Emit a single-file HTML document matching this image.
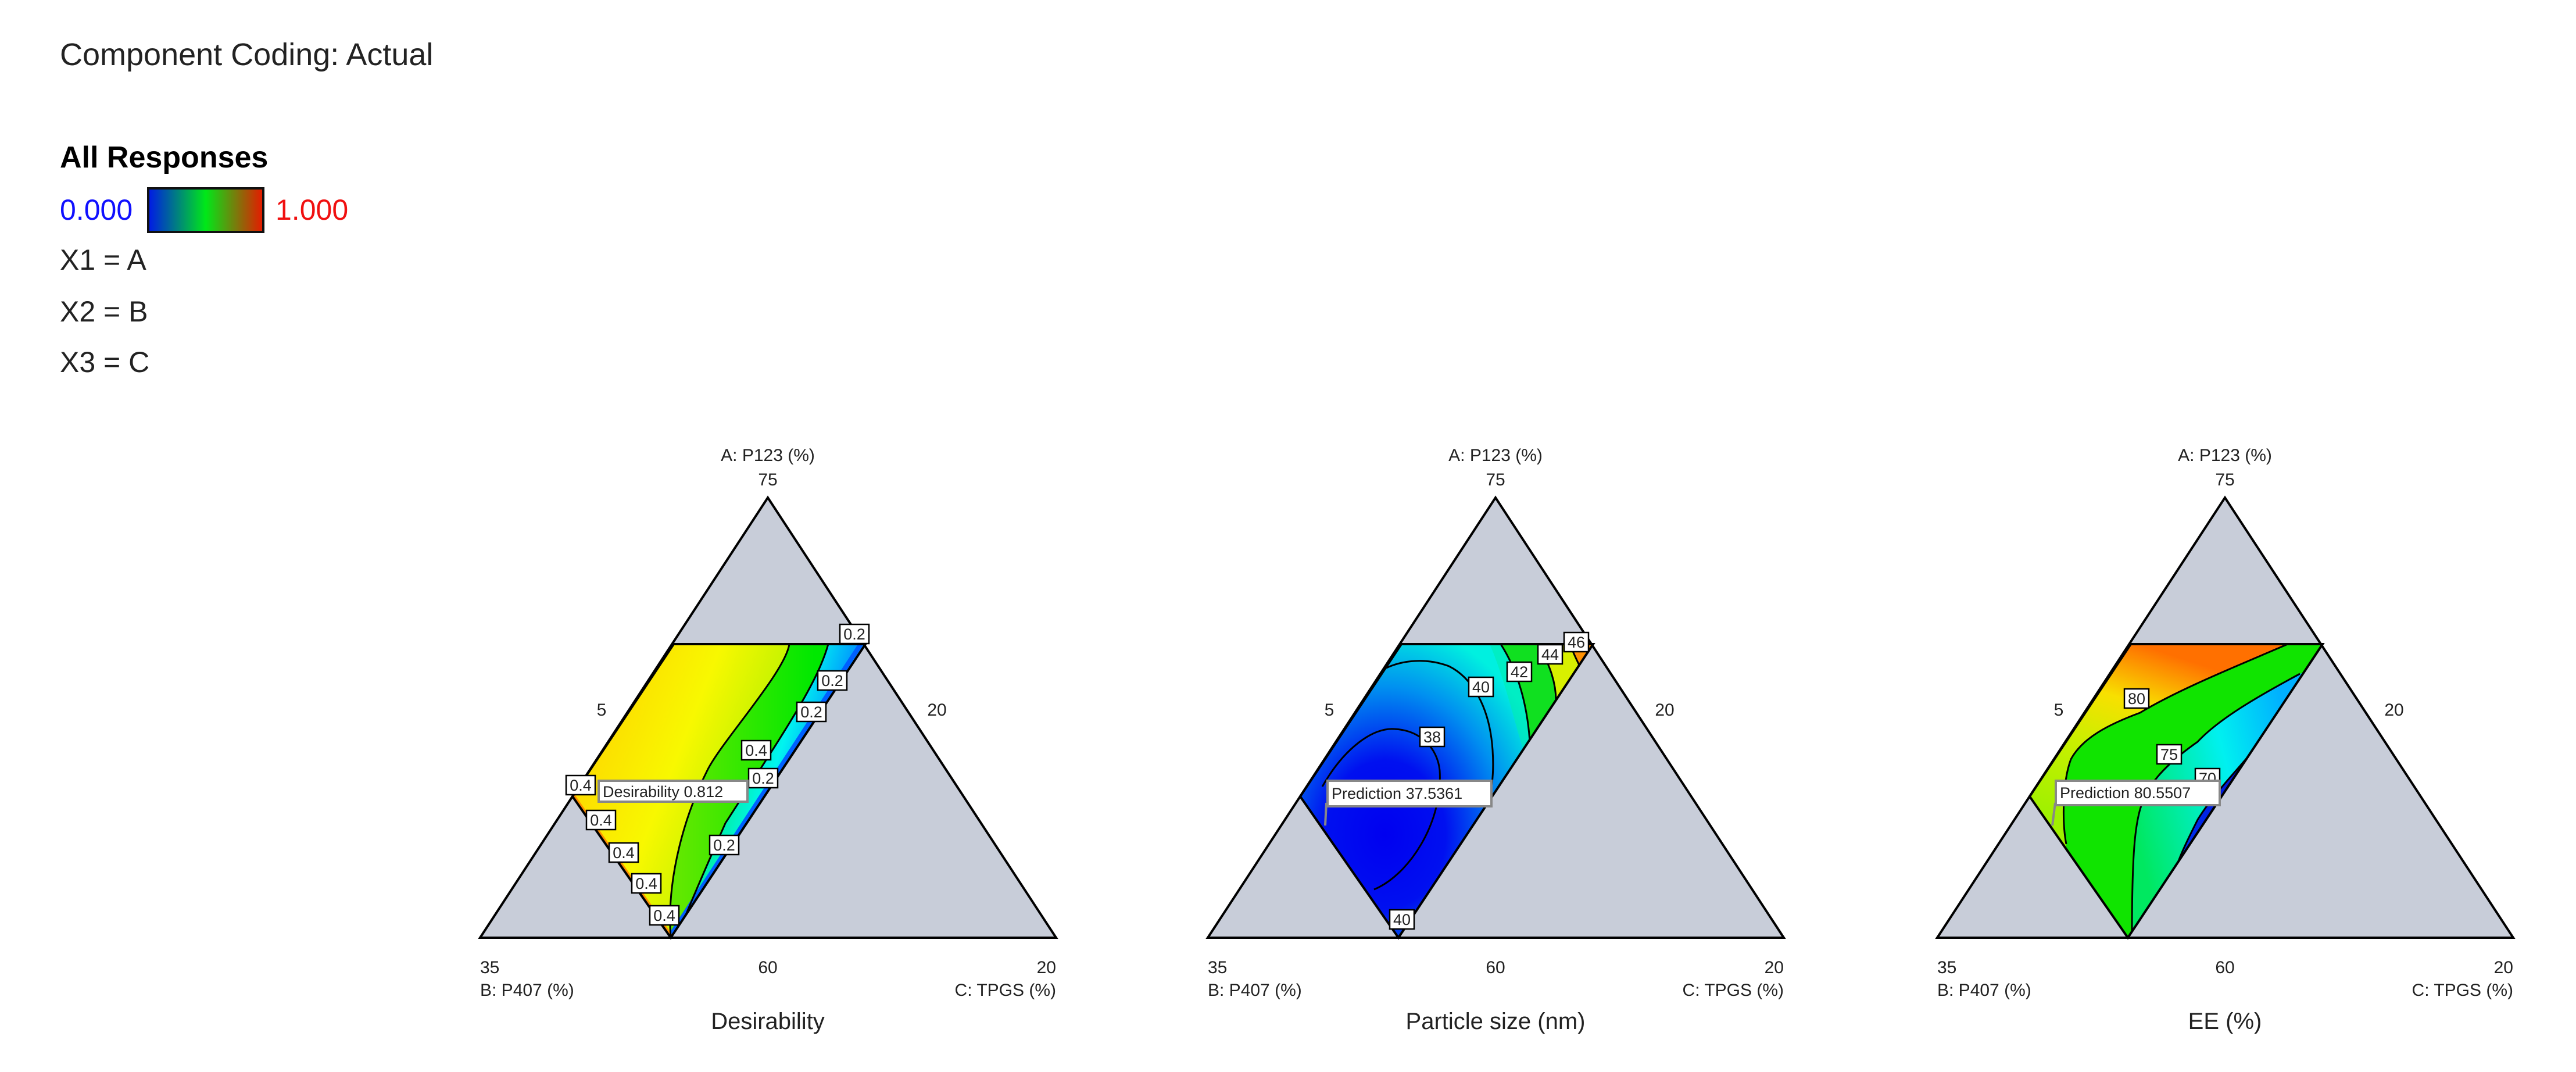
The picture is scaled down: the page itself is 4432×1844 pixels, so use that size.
<!DOCTYPE html>
<html><head><meta charset="utf-8"><style>
html,body{margin:0;padding:0;background:#fff;}
svg{display:block;}
text{font-family:"Liberation Sans",sans-serif;fill:#222;}
</style></head><body>
<svg width="4432" height="1844" viewBox="0 0 4432 1844" xmlns="http://www.w3.org/2000/svg">
<defs>
  <clipPath id="poly"><path d="M-162,252 L168,252 L-167,757 L-336,514 Z"/></clipPath>
  <linearGradient id="cb" x1="0" x2="1" y1="0" y2="0">
    <stop offset="0" stop-color="#0018e8"/><stop offset="0.5" stop-color="#00e818"/><stop offset="1" stop-color="#e81800"/>
  </linearGradient>
  <linearGradient id="g1a" gradientUnits="userSpaceOnUse" x1="-340" y1="300" x2="40" y2="450">
    <stop offset="0" stop-color="#ffcc00"/><stop offset="0.55" stop-color="#f8f800"/><stop offset="1" stop-color="#a8f000"/>
  </linearGradient>
  <linearGradient id="g1b" gradientUnits="userSpaceOnUse" x1="-150" y1="450" x2="80" y2="450">
    <stop offset="0" stop-color="#60e800"/><stop offset="1" stop-color="#00e800"/>
  </linearGradient>
  <linearGradient id="g1c" gradientUnits="userSpaceOnUse" x1="-120" y1="500" x2="60" y2="560">
    <stop offset="0" stop-color="#00ec60"/><stop offset="0.6" stop-color="#00f4f0"/><stop offset="1" stop-color="#0090ff"/>
  </linearGradient>
  <radialGradient id="g2" gradientUnits="userSpaceOnUse" cx="-190" cy="580" r="330" gradientTransform="translate(-190,580) scale(0.9,1.1) translate(190,-580)">
    <stop offset="0" stop-color="#0000f0"/><stop offset="0.35" stop-color="#0010f0"/><stop offset="0.7" stop-color="#0090f0"/><stop offset="1" stop-color="#00f0e0"/>
  </radialGradient>
  <linearGradient id="g3" gradientUnits="userSpaceOnUse" x1="-150" y1="252" x2="-250" y2="560">
    <stop offset="0" stop-color="#ff7000"/><stop offset="0.3" stop-color="#f8e000"/><stop offset="0.6" stop-color="#c8f000"/><stop offset="1" stop-color="#a0f000"/>
  </linearGradient>
  <linearGradient id="g3b" gradientUnits="userSpaceOnUse" x1="-160" y1="550" x2="130" y2="480">
    <stop offset="0" stop-color="#00e860"/><stop offset="0.6" stop-color="#00f0f0"/><stop offset="1" stop-color="#00b0ff"/>
  </linearGradient>
  <linearGradient id="g3c" gradientUnits="userSpaceOnUse" x1="-80" y1="600" x2="40" y2="450">
    <stop offset="0" stop-color="#0030f0"/><stop offset="1" stop-color="#0010d0"/>
  </linearGradient>
</defs>

<!-- legend -->
<text x="103" y="112" font-size="54">Component Coding: Actual</text>
<text x="103" y="288" font-size="52" font-weight="bold" style="fill:#000">All Responses</text>
<text x="103" y="378" font-size="50" style="fill:#1010ff">0.000</text>
<rect x="255" y="324" width="198" height="75" fill="url(#cb)" stroke="#111" stroke-width="4"/>
<text x="474" y="378" font-size="50" style="fill:#f01010">1.000</text>
<text x="103" y="464" font-size="50">X1 = A</text>
<text x="103" y="553" font-size="50">X2 = B</text>
<text x="103" y="640" font-size="50">X3 = C</text>

<!-- Triangle 1 -->
<g transform="translate(1321,856)">
  <path d="M0,0 L496,757 L-495,757 Z" fill="#c8cdd9"/>
  <g clip-path="url(#poly)">
    <rect x="-400" y="240" width="700" height="530" fill="url(#g1a)"/>
    <path d="M37,252 C30,300 -80,420 -104,469 C-140,540 -175,650 -167,757 L300,757 L300,252 Z" fill="url(#g1b)"/>
    <path d="M104,252 C85,320 30,400 -73,560 C-95,610 -130,690 -146,730 L-140,800 L300,800 L300,252 Z" fill="url(#g1c)"/>
    <path d="M160,252 L-175,765" stroke="#0060ff" stroke-width="8" fill="none"/>
    <path d="M-336,514 L-167,757" stroke="#ff9000" stroke-width="10" fill="none"/>
    <path d="M37,252 C30,300 -80,420 -104,469 C-140,540 -175,650 -167,757" stroke="#000" stroke-width="3" fill="none"/>
    <path d="M104,252 C85,320 30,400 -73,560 C-95,610 -130,690 -146,730" stroke="#000" stroke-width="3" fill="none"/>
  </g>
  <path d="M-162,252 L168,252 L-167,757 L-336,514 Z" fill="none" stroke="#000" stroke-width="4"/>
  <path d="M0,0 L496,757 L-495,757 Z" fill="none" stroke="#000" stroke-width="4"/>
  <g font-size="27" text-anchor="middle">
    <rect x="124" y="218" width="50" height="33" fill="#fff" stroke="#000" stroke-width="2.5"/><text x="149" y="244">0.2</text>
    <rect x="86" y="298" width="50" height="33" fill="#fff" stroke="#000" stroke-width="2.5"/><text x="111" y="324">0.2</text>
    <rect x="50" y="352" width="50" height="33" fill="#fff" stroke="#000" stroke-width="2.5"/><text x="75" y="378">0.2</text>
    <rect x="-45" y="418" width="50" height="33" fill="#fff" stroke="#000" stroke-width="2.5"/><text x="-20" y="444">0.4</text>
    <rect x="-33" y="466" width="50" height="33" fill="#fff" stroke="#000" stroke-width="2.5"/><text x="-8" y="492">0.2</text>
    <rect x="-100" y="581" width="50" height="33" fill="#fff" stroke="#000" stroke-width="2.5"/><text x="-75" y="607">0.2</text>
    <rect x="-347" y="478" width="50" height="33" fill="#fff" stroke="#000" stroke-width="2.5"/><text x="-322" y="504">0.4</text>
    <rect x="-312" y="538" width="50" height="33" fill="#fff" stroke="#000" stroke-width="2.5"/><text x="-287" y="564">0.4</text>
    <rect x="-273" y="594" width="50" height="33" fill="#fff" stroke="#000" stroke-width="2.5"/><text x="-248" y="620">0.4</text>
    <rect x="-234" y="647" width="50" height="33" fill="#fff" stroke="#000" stroke-width="2.5"/><text x="-209" y="673">0.4</text>
    <rect x="-203" y="702" width="50" height="33" fill="#fff" stroke="#000" stroke-width="2.5"/><text x="-178" y="728">0.4</text>
  </g>
  <rect x="-291" y="487" width="256" height="36" fill="#fff" stroke="#888" stroke-width="4"/>
  <text x="-284" y="515" font-size="27">Desirability  0.812</text>
  <text x="0" y="-63" font-size="30" text-anchor="middle">A: P123 (%)</text>
  <text x="0" y="-21" font-size="30" text-anchor="middle">75</text>
  <text x="-286" y="375" font-size="30" text-anchor="middle">5</text>
  <text x="291" y="375" font-size="30" text-anchor="middle">20</text>
  <text x="-495" y="818" font-size="30">35</text>
  <text x="0" y="818" font-size="30" text-anchor="middle">60</text>
  <text x="496" y="818" font-size="30" text-anchor="end">20</text>
  <text x="-495" y="857" font-size="30">B: P407 (%)</text>
  <text x="496" y="857" font-size="30" text-anchor="end">C: TPGS (%)</text>
  <text x="0" y="914" font-size="40" text-anchor="middle">Desirability</text>
</g>

<!-- Triangle 2 -->
<g transform="translate(2573,856)">
  <path d="M0,0 L496,757 L-495,757 Z" fill="#c8cdd9"/>
  <g clip-path="url(#poly)">
    <rect x="-400" y="240" width="700" height="530" fill="url(#g2)"/>
    <path d="M-10,252 C20,320 40,420 60,470 L300,470 L300,252 Z" fill="#00ecb0" opacity="0.6"/>
    <path d="M9,252 C40,300 55,360 59,420 L300,420 L300,252 Z" fill="#10e020"/>
    <path d="M73,252 C95,290 104,320 104,349 L300,349 L300,252 Z" fill="#d8f000"/>
    <path d="M128,252 C135,270 140,280 145,290 L300,290 L300,252 Z" fill="#ff9000"/>
    <path d="M-188,293 C-160,280 -120,275 -80,290 C-40,310 -10,360 -5,434 C-2,480 -8,510 -12,518" stroke="#000" stroke-width="3" fill="none"/>
    <path d="M-298,497 C-260,430 -210,395 -174,398 C-130,400 -100,430 -96,469 C-90,560 -150,650 -209,674" stroke="#000" stroke-width="3" fill="none"/>
    <path d="M9,252 C40,300 55,360 59,420" stroke="#000" stroke-width="3" fill="none"/>
    <path d="M73,252 C95,290 104,320 104,349" stroke="#000" stroke-width="3" fill="none"/>
    <path d="M128,252 C135,270 140,280 145,290" stroke="#000" stroke-width="3" fill="none"/>
  </g>
  <path d="M-162,252 L168,252 L-167,757 L-336,514 Z" fill="none" stroke="#000" stroke-width="4"/>
  <path d="M0,0 L496,757 L-495,757 Z" fill="none" stroke="#000" stroke-width="4"/>
  <g font-size="27" text-anchor="middle">
    <rect x="118" y="232" width="42" height="33" fill="#fff" stroke="#000" stroke-width="2.5"/><text x="139" y="258">46</text>
    <rect x="73" y="253" width="42" height="33" fill="#fff" stroke="#000" stroke-width="2.5"/><text x="94" y="279">44</text>
    <rect x="20" y="283" width="42" height="33" fill="#fff" stroke="#000" stroke-width="2.5"/><text x="41" y="309">42</text>
    <rect x="-46" y="309" width="42" height="33" fill="#fff" stroke="#000" stroke-width="2.5"/><text x="-25" y="335">40</text>
    <rect x="-130" y="395" width="42" height="33" fill="#fff" stroke="#000" stroke-width="2.5"/><text x="-109" y="421">38</text>
    <rect x="-182" y="709" width="42" height="33" fill="#fff" stroke="#000" stroke-width="2.5"/><text x="-161" y="735">40</text>
  </g>
  <path d="M-291,525 L-293,564" stroke="#888" stroke-width="4"/>
  <rect x="-289" y="487" width="282" height="44" fill="#fff" stroke="#888" stroke-width="4"/>
  <text x="-282" y="518" font-size="27">Prediction  37.5361</text>
  <text x="0" y="-63" font-size="30" text-anchor="middle">A: P123 (%)</text>
  <text x="0" y="-21" font-size="30" text-anchor="middle">75</text>
  <text x="-286" y="375" font-size="30" text-anchor="middle">5</text>
  <text x="291" y="375" font-size="30" text-anchor="middle">20</text>
  <text x="-495" y="818" font-size="30">35</text>
  <text x="0" y="818" font-size="30" text-anchor="middle">60</text>
  <text x="496" y="818" font-size="30" text-anchor="end">20</text>
  <text x="-495" y="857" font-size="30">B: P407 (%)</text>
  <text x="496" y="857" font-size="30" text-anchor="end">C: TPGS (%)</text>
  <text x="0" y="914" font-size="40" text-anchor="middle">Particle size (nm)</text>
</g>

<!-- Triangle 3 -->
<g transform="translate(3828,856)">
  <path d="M0,0 L496,757 L-495,757 Z" fill="#c8cdd9"/>
  <g clip-path="url(#poly)">
    <rect x="-400" y="240" width="700" height="530" fill="url(#g3)"/>
    <path d="M108,252 C20,290 -80,330 -146,370 C-200,390 -245,413 -265,450 C-280,490 -280,560 -273,596 L-280,800 L300,800 L300,252 Z" fill="#10e400"/>
    <path d="M129,303 C60,340 -10,380 -47,420 C-90,450 -120,480 -132,504 C-155,540 -160,600 -160,757 L300,800 L300,252 Z" fill="url(#g3b)"/>
    <path d="M59,423 C20,470 -20,510 -47,554 C-60,580 -75,610 -82,631 L-90,640 L62,410 Z" fill="url(#g3c)"/>
    <path d="M108,252 C20,290 -80,330 -146,370 C-200,390 -245,413 -265,450 C-280,490 -280,560 -273,596" stroke="#000" stroke-width="3" fill="none"/>
    <path d="M129,303 C60,340 -10,380 -47,420 C-90,450 -120,480 -132,504 C-155,540 -160,600 -160,757" stroke="#000" stroke-width="3" fill="none"/>
    <path d="M59,423 C20,470 -20,510 -47,554 C-60,580 -75,610 -82,631" stroke="#000" stroke-width="3" fill="none"/>
  </g>
  <path d="M-162,252 L168,252 L-167,757 L-336,514 Z" fill="none" stroke="#000" stroke-width="4"/>
  <path d="M0,0 L496,757 L-495,757 Z" fill="none" stroke="#000" stroke-width="4"/>
  <g font-size="27" text-anchor="middle">
    <rect x="-173" y="329" width="42" height="33" fill="#fff" stroke="#000" stroke-width="2.5"/><text x="-152" y="355">80</text>
    <rect x="-117" y="425" width="42" height="33" fill="#fff" stroke="#000" stroke-width="2.5"/><text x="-96" y="451">75</text>
    <rect x="-51" y="466" width="42" height="33" fill="#fff" stroke="#000" stroke-width="2.5"/><text x="-30" y="492">70</text>
  </g>
  <path d="M-292,525 L-297,564" stroke="#888" stroke-width="4"/>
  <rect x="-291" y="487" width="282" height="42" fill="#fff" stroke="#888" stroke-width="4"/>
  <text x="-284" y="517" font-size="27">Prediction  80.5507</text>
  <text x="0" y="-63" font-size="30" text-anchor="middle">A: P123 (%)</text>
  <text x="0" y="-21" font-size="30" text-anchor="middle">75</text>
  <text x="-286" y="375" font-size="30" text-anchor="middle">5</text>
  <text x="291" y="375" font-size="30" text-anchor="middle">20</text>
  <text x="-495" y="818" font-size="30">35</text>
  <text x="0" y="818" font-size="30" text-anchor="middle">60</text>
  <text x="496" y="818" font-size="30" text-anchor="end">20</text>
  <text x="-495" y="857" font-size="30">B: P407 (%)</text>
  <text x="496" y="857" font-size="30" text-anchor="end">C: TPGS (%)</text>
  <text x="0" y="914" font-size="40" text-anchor="middle">EE (%)</text>
</g>
</svg>
</body></html>
